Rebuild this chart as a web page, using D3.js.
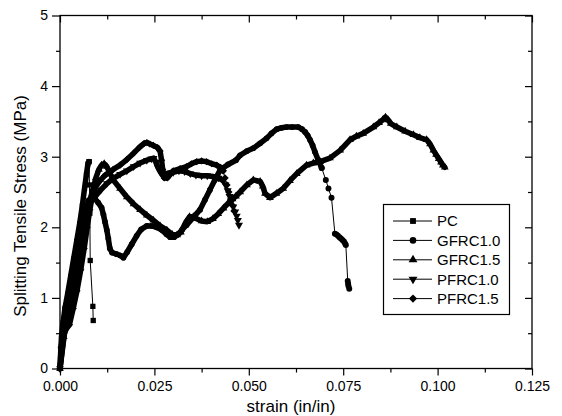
<!DOCTYPE html>
<html>
<head>
<meta charset="utf-8">
<script src="https://cdn.jsdelivr.net/npm/d3@7"></script>
<style>
  body { margin: 0; background: #fff; }
  text { font-family: Arial, "Liberation Sans", sans-serif; fill: #000; }
</style>
</head>
<body>
<div id="chart"></div>
<script>
// data: [strain (in/in), stress (MPa)]
// "curve" = dense part of a test record, "tail" = sparse part where the points show
var pcCurve = [[0,0],[0.0002,0.25],[0.0004,0.45],[0.0008,0.65],[0.0013,0.85],[0.002,1.05],[0.0028,1.3],[0.0036,1.55],
  [0.0044,1.8],[0.0052,2.05],[0.0059,2.3],[0.0065,2.55],[0.007,2.75],[0.0074,2.9],[0.0077,2.93]]
var pcTail = [[0.0077,2.93],[0.0078,2.6],[0.0079,2.2],[0.008,1.53],[0.0087,0.88],[0.0088,0.68]]

var gfrc10Curve = [[0,0],[0.0007,0.4],[0.0015,0.65],[0.0024,0.9],[0.0033,1.15],[0.0042,1.45],[0.0051,1.75],[0.006,2.05],
  [0.0068,2.25],[0.0076,2.38],[0.0085,2.42],[0.0093,2.4],[0.0101,2.35],[0.011,2.28],[0.0115,2.18],[0.0119,2.08],
  [0.0124,1.96],[0.0128,1.84],[0.0132,1.7],[0.0138,1.64],[0.015,1.62],[0.016,1.6],[0.0168,1.57],[0.0178,1.65],
  [0.019,1.76],[0.0203,1.88],[0.0215,1.97],[0.023,2.02],[0.0243,2.02],[0.0256,2.0],[0.027,1.96],[0.0282,1.9],
  [0.0292,1.86],[0.0302,1.86],[0.0313,1.9],[0.0324,1.97],[0.0335,2.03],[0.0353,2.14],[0.0371,2.25],[0.0384,2.39],
  [0.0397,2.53],[0.041,2.67],[0.0424,2.81],[0.0445,2.89],[0.0466,2.95],[0.0477,3.02],[0.0495,3.08],[0.0512,3.12],
  [0.053,3.19],[0.0547,3.26],[0.056,3.33],[0.0574,3.39],[0.0587,3.41],[0.06,3.42],[0.0615,3.42],[0.0631,3.42],
  [0.0641,3.39],[0.0649,3.35],[0.0656,3.3],[0.0662,3.24],[0.0669,3.16],[0.0675,3.07],[0.0684,2.95],[0.0693,2.84]]
var gfrc10Tail = [[0.0693,2.84],[0.0704,2.67],[0.0711,2.55],[0.0719,2.42],[0.0728,1.91],[0.0732,1.9],[0.0736,1.88],
  [0.074,1.86],[0.0744,1.84],[0.0748,1.82],[0.0752,1.8],[0.0755,1.77],[0.0757,1.75],[0.0762,1.24],[0.0763,1.2],
  [0.0764,1.17],[0.0766,1.13]]

var gfrc15Curve = [[0,0],[0.001,0.45],[0.002,0.7],[0.003,0.95],[0.004,1.2],[0.005,1.5],[0.006,1.8],[0.007,2.1],
  [0.008,2.4],[0.0088,2.55],[0.0095,2.7],[0.0103,2.82],[0.011,2.88],[0.0117,2.9],[0.0124,2.86],[0.0132,2.77],
  [0.0141,2.67],[0.0159,2.55],[0.0177,2.43],[0.0195,2.33],[0.0212,2.25],[0.023,2.17],[0.0247,2.1],[0.0265,2.02],
  [0.0283,1.96],[0.0297,1.9],[0.031,1.89],[0.032,1.93],[0.0333,2.07],[0.0343,2.15],[0.0353,2.15],[0.0362,2.12],
  [0.0375,2.09],[0.039,2.08],[0.0405,2.12],[0.0419,2.19],[0.0433,2.27],[0.0447,2.35],[0.0457,2.4],[0.0466,2.44],
  [0.0477,2.5],[0.0495,2.6],[0.0512,2.67],[0.053,2.65],[0.0537,2.58],[0.0543,2.48],[0.0556,2.42],[0.0573,2.48],
  [0.0591,2.55],[0.0609,2.66],[0.0627,2.76],[0.0653,2.88],[0.0671,2.91],[0.0689,2.93],[0.0715,2.98],[0.0742,3.09],
  [0.0768,3.24],[0.0785,3.29],[0.0803,3.33],[0.083,3.42],[0.0845,3.48],[0.0856,3.53],[0.0862,3.56],[0.0869,3.52],
  [0.0876,3.47],[0.0892,3.42],[0.0914,3.36],[0.0936,3.31],[0.0953,3.27],[0.0971,3.24],[0.098,3.18],[0.0989,3.09],
  [0.0996,3.03],[0.1003,2.97],[0.1009,2.92],[0.1014,2.88],[0.1019,2.85]]
var gfrc15Tail = []

var pfrc10Curve = [[0,0],[0.0012,0.5],[0.0021,0.75],[0.003,1.0],[0.0039,1.25],[0.0048,1.55],[0.0057,1.85],[0.0066,2.1],
  [0.0076,2.35],[0.0088,2.42],[0.0097,2.46],[0.0108,2.53],[0.0124,2.62],[0.014,2.69],[0.0159,2.75],[0.0177,2.8],
  [0.0195,2.86],[0.0212,2.91],[0.023,2.95],[0.0242,2.97],[0.0248,2.98],[0.0254,2.92],[0.0259,2.85],[0.0265,2.79],
  [0.0271,2.74],[0.0278,2.72],[0.0288,2.77],[0.03,2.78],[0.0315,2.8],[0.033,2.79],[0.0345,2.76],[0.036,2.74],
  [0.0375,2.73],[0.039,2.73],[0.0405,2.72],[0.042,2.7],[0.0432,2.66]]
var pfrc10Tail = [[0.0432,2.66],[0.0438,2.6],[0.0444,2.52],[0.0449,2.44],[0.0454,2.36],[0.0459,2.29],[0.0464,2.22],
  [0.0468,2.16],[0.0471,2.1],[0.0474,2.03]]

var pfrc15Curve = [[0,0],[0.0003,0.3],[0.0008,0.5],[0.0015,0.55],[0.0025,0.62],[0.0035,0.85],[0.0045,1.1],[0.0055,1.4],
  [0.0064,1.7],[0.0072,2.0],[0.0079,2.25],[0.0086,2.45],[0.0095,2.58],[0.0106,2.66],[0.0118,2.73],[0.013,2.78],
  [0.0141,2.82],[0.0159,2.88],[0.0177,2.96],[0.0195,3.05],[0.0212,3.14],[0.0223,3.19],[0.023,3.2],[0.0238,3.18],
  [0.0247,3.16],[0.0258,3.13],[0.0265,3.08],[0.0269,2.95],[0.0272,2.82],[0.0276,2.7],[0.0284,2.7],[0.0292,2.75],
  [0.03,2.8],[0.0318,2.83],[0.0335,2.86],[0.0348,2.9],[0.0362,2.93],[0.0375,2.94],[0.0388,2.93],[0.0402,2.9],
  [0.0415,2.88],[0.0425,2.85],[0.0432,2.8]]
var pfrc15Tail = [[0.0432,2.8],[0.0437,2.7],[0.0442,2.6],[0.0447,2.5],[0.0452,2.4],[0.0457,2.31],[0.0461,2.23]]

var seriesNames = ["PC", "GFRC1.0", "GFRC1.5", "PFRC1.0", "PFRC1.5"]
var xTicks = [0, 0.025, 0.05, 0.075, 0.1, 0.125]
var yTicks = [0, 1, 2, 3, 4, 5]

var series = [
  {name: seriesNames[0], symbol: d3.symbolSquare, rotate: 0, curve: pcCurve, tail: pcTail},
  {name: seriesNames[1], symbol: d3.symbolCircle, rotate: 0, curve: gfrc10Curve, tail: gfrc10Tail},
  {name: seriesNames[2], symbol: d3.symbolTriangle, rotate: 0, curve: gfrc15Curve, tail: gfrc15Tail},
  {name: seriesNames[3], symbol: d3.symbolTriangle, rotate: 180, curve: pfrc10Curve, tail: pfrc10Tail},
  {name: seriesNames[4], symbol: d3.symbolSquare, rotate: 45, curve: pfrc15Curve, tail: pfrc15Tail}
]

var width = 562, height = 416
var plot = {left: 60, right: 532, top: 15.5, bottom: 368.5}

var svg = d3.select("#chart")
  .append("svg")
    .attr("width", width)
    .attr("height", height)

var x = d3.scaleLinear().domain([0, 0.125]).range([plot.left, plot.right])
var y = d3.scaleLinear().domain([0, 5]).range([plot.bottom, plot.top])

var xMinor = d3.range(0, 10).map(function(i){ return 0.0125 + i*0.025 }).filter(function(d){ return d < 0.125 })
var yMinor = [0.5, 1.5, 2.5, 3.5, 4.5]

function noDomain(g){ g.select(".domain").remove(); g.selectAll("line").attr("stroke", "#000").attr("stroke-width", 1.2) }

// bottom + left: ticks outside, with labels
svg.append("g")
  .attr("transform", "translate(0," + plot.bottom + ")")
  .call(d3.axisBottom(x).tickValues(xTicks).tickFormat(d3.format(".3f")).tickSize(7).tickPadding(6))
  .call(noDomain)
  .selectAll("text").style("font-size", "14px").style("font-family", "Arial, 'Liberation Sans', sans-serif")
svg.append("g")
  .attr("transform", "translate(0," + plot.bottom + ")")
  .call(d3.axisBottom(x).tickValues(xMinor).tickFormat("").tickSize(4))
  .call(noDomain)
svg.append("g")
  .attr("transform", "translate(" + plot.left + ",0)")
  .call(d3.axisLeft(y).tickValues(yTicks).tickFormat(d3.format("d")).tickSize(8).tickPadding(4))
  .call(noDomain)
  .selectAll("text").style("font-size", "14px").style("font-family", "Arial, 'Liberation Sans', sans-serif")
svg.append("g")
  .attr("transform", "translate(" + plot.left + ",0)")
  .call(d3.axisLeft(y).tickValues(yMinor).tickFormat("").tickSize(4))
  .call(noDomain)

// top + right: mirrored ticks pointing in
svg.append("g")
  .attr("transform", "translate(0," + plot.top + ")")
  .call(d3.axisTop(x).tickValues(xTicks).tickFormat("").tickSize(-7))
  .call(noDomain)
svg.append("g")
  .attr("transform", "translate(0," + plot.top + ")")
  .call(d3.axisTop(x).tickValues(xMinor).tickFormat("").tickSize(-4))
  .call(noDomain)
svg.append("g")
  .attr("transform", "translate(" + plot.right + ",0)")
  .call(d3.axisRight(y).tickValues(yTicks).tickFormat("").tickSize(-7))
  .call(noDomain)
svg.append("g")
  .attr("transform", "translate(" + plot.right + ",0)")
  .call(d3.axisRight(y).tickValues(yMinor).tickFormat("").tickSize(-4))
  .call(noDomain)

svg.append("rect")
  .attr("x", plot.left).attr("y", plot.top)
  .attr("width", plot.right - plot.left).attr("height", plot.bottom - plot.top)
  .attr("fill", "none").attr("stroke", "#000").attr("stroke-width", 1.3)

// axis titles
svg.append("text")
  .attr("x", 291).attr("y", 412)
  .attr("text-anchor", "middle")
  .style("font-size", "17px")
  .text("strain (in/in)")
svg.append("text")
  .attr("transform", "translate(26,206) rotate(-90)")
  .attr("text-anchor", "middle")
  .style("font-size", "17px")
  .text("Splitting Tensile Stress (MPa)")

var line = d3.line().x(function(d){ return x(d[0]) }).y(function(d){ return y(d[1]) })

function markerPath(s, size){
  return d3.symbol().type(s.symbol).size(size)()
}

var curves = svg.append("g")
series.forEach(function(s){
  // dense records: the points run together into a thick band
  curves.append("path")
    .datum(s.curve)
    .attr("d", line)
    .attr("fill", "none")
    .attr("stroke", "#000")
    .attr("stroke-width", 5.5)
    .attr("stroke-linejoin", "round")
    .attr("stroke-linecap", "round")
  curves.selectAll(null)
    .data(s.curve)
    .enter()
    .append("path")
      .attr("d", markerPath(s, 26))
      .attr("transform", function(d){ return "translate(" + x(d[0]) + "," + y(d[1]) + ") rotate(" + s.rotate + ")" })
      .attr("fill", "#000")
  // sparse tails: thin line with visible points
  if (s.tail.length) {
    curves.append("path")
      .datum(s.tail)
      .attr("d", line)
      .attr("fill", "none")
      .attr("stroke", "#000")
      .attr("stroke-width", 1)
    curves.selectAll(null)
      .data(s.tail)
      .enter()
      .append("path")
        .attr("d", markerPath(s, 28))
        .attr("transform", function(d){ return "translate(" + x(d[0]) + "," + y(d[1]) + ") rotate(" + s.rotate + ")" })
        .attr("fill", "#000")
  }
})

// legend
var legend = svg.append("g")
legend.append("rect")
  .attr("x", 383.5).attr("y", 204.5)
  .attr("width", 126).attr("height", 110)
  .attr("fill", "#fff").attr("stroke", "#000").attr("stroke-width", 1.2)

var rowY = function(i){ return 221 + i*19.4 }
legend.selectAll("legline")
  .data(series)
  .enter()
  .append("line")
    .attr("x1", 393).attr("x2", 432)
    .attr("y1", function(d,i){ return rowY(i) })
    .attr("y2", function(d,i){ return rowY(i) })
    .attr("stroke", "#000").attr("stroke-width", 1)
legend.selectAll("legmark")
  .data(series)
  .enter()
  .append("path")
    .attr("d", function(d){ return markerPath(d, 34) })
    .attr("transform", function(d,i){ return "translate(413," + rowY(i) + ") rotate(" + d.rotate + ")" })
    .attr("fill", "#000")
legend.selectAll("leglabel")
  .data(series)
  .enter()
  .append("text")
    .attr("x", 437)
    .attr("y", function(d,i){ return rowY(i) })
    .attr("dy", "0.36em")
    .style("font-size", "15px")
    .text(function(d){ return d.name })
</script>
</body>
</html>
